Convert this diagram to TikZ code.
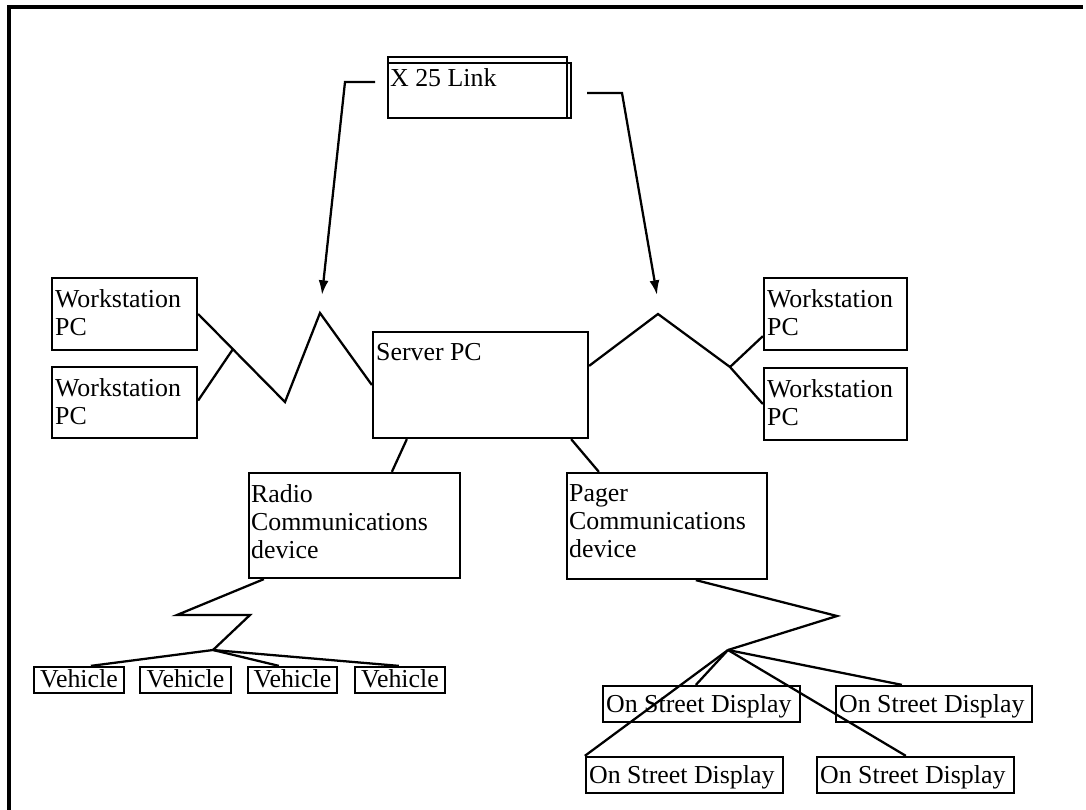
\documentclass[tikz,border=0pt]{standalone}
\usepackage{fontspec}
\setmainfont{Liberation Serif}
\usetikzlibrary{fit,arrows.meta,calc}
\begin{document}
\begin{tikzpicture}[x=0.75pt,y=-0.75pt,
  box/.style={draw, line width=1.7pt, inner sep=0pt},
  lbl/.style={anchor=north west, inner sep=0pt, align=left, font=\fontsize{19.4}{21}\selectfont},
  slbl/.style={inner sep=0pt, font=\fontsize{19.4}{21}\selectfont},
  wire/.style={line width=1.7pt, line join=miter},
  arr/.style={wire, -{Latex[length=11pt,width=7.5pt]}},
  frame/.style={line width=3pt}]
\useasboundingbox (0,0) rectangle (1086,810);
% outer frame (top and left edges)
\draw[frame] (8.5,810) -- (8.5,7) -- (1083,7);

% X.25 link box (double outline)
\node[box, fit={(388,57) (567,118)}] (x25a) {};
\node[box, fit={(388,63) (571,118)}] (x25) {};
\node[lbl] (x25t) at ($(x25a.north west)+(3,12)$) {X 25 Link};

% workstations
\node[box, fit={(52,278) (197,350)}] (ws1) {};
\node[lbl] (ws1t) at ($(ws1.north west)+(4,12)$) {Workstation\\PC};
\node[box, fit={(52,367) (197,438)}] (ws2) {};
\node[lbl] (ws2t) at ($(ws2.north west)+(4,12)$) {Workstation\\PC};
\node[box, fit={(764,278) (907,350)}] (ws3) {};
\node[lbl] (ws3t) at ($(ws3.north west)+(4,12)$) {Workstation\\PC};
\node[box, fit={(764,368) (907,440)}] (ws4) {};
\node[lbl] (ws4t) at ($(ws4.north west)+(4,12)$) {Workstation\\PC};

% server
\node[box, fit={(373,332) (588,438)}] (srv) {};
\node[lbl] (srvt) at ($(srv.north west)+(4,12)$) {Server PC};

% comm devices
\node[box, fit={(249,473) (460,578)}] (rad) {};
\node[lbl] (radt) at ($(rad.north west)+(3,12)$) {Radio\\Communications\\device};
\node[box, fit={(567,473) (767,579)}] (pag) {};
\node[lbl] (pagt) at ($(pag.north west)+(3,12)$) {Pager\\Communications\\device};

% vehicles
\node[box, fit={(34,667) (124,693)}] (v1) {};
\node[slbl, anchor=base] (v1t) at ($(v1.center)+(0,7)$) {Vehicle};
\node[box, fit={(140,667) (231,693)}] (v2) {};
\node[slbl, anchor=base] (v2t) at ($(v2.center)+(0,7)$) {Vehicle};
\node[box, fit={(248,667) (337,693)}] (v3) {};
\node[slbl, anchor=base] (v3t) at ($(v3.center)+(0,7)$) {Vehicle};
\node[box, fit={(355,667) (445,693)}] (v4) {};
\node[slbl, anchor=base] (v4t) at ($(v4.center)+(0,7)$) {Vehicle};

% on street displays
\node[box, fit={(603,686) (800,722)}] (o1) {};
\node[slbl, anchor=base west] (o1t) at ($(o1.west)+(4,8)$) {On Street Display};
\node[box, fit={(836,686) (1032,722)}] (o2) {};
\node[slbl, anchor=base west] (o2t) at ($(o2.west)+(4,8)$) {On Street Display};
\node[box, fit={(586,757) (783,793)}] (o3) {};
\node[slbl, anchor=base west] (o3t) at ($(o3.west)+(4,8)$) {On Street Display};
\node[box, fit={(817,757) (1014,793)}] (o4) {};
\node[slbl, anchor=base west] (o4t) at ($(o4.west)+(4,8)$) {On Street Display};

% arrows from X.25 link
\coordinate (la1) at (375,82);
\coordinate (la2) at (345,82);
\coordinate (lat) at (322,295);
\draw[arr] (la1) -- (la2) -- (lat);
\coordinate (ra1) at (587,93);
\coordinate (ra2) at (622,93);
\coordinate (rat) at (657,295);
\draw[arr] (ra1) -- (ra2) -- (rat);

% left network zigzag
\coordinate (lv) at (285,402);
\coordinate (lp) at (320,313);
\coordinate (lb) at ($(ws1.east)!0.4!(lv)$);
\draw[wire] (ws1.east) -- (lv) -- (lp) -- (srv.west);
\draw[wire] ($(ws2.east)+(0,-2)$) -- (lb);

% right network zigzag
\coordinate (rp) at (658,314);
\coordinate (rb) at (730,367);
\draw[wire] ($(srv.north east)+(0,35)$) -- (rp) -- (rb) -- (ws4.west);
\draw[wire] (rb) -- ($(ws3.south west)+(0,-15)$);

% server to devices
\draw[wire] ($(srv.south west)+(35,0)$) -- ($(rad.north west)+(144,0)$);
\draw[wire] ($(srv.south east)+(-18,0)$) -- ($(pag.north west)+(33,0)$);

% radio to vehicles
\coordinate (rz1) at (177,615);
\coordinate (rz2) at (250,615);
\coordinate (rbr) at (213,650);
\draw[wire] ($(rad.south west)+(16,0)$) -- (rz1) -- (rz2) -- (rbr);
\draw[wire] (rbr) -- ($(v1.north west)+(58,0)$);
\draw[wire] (rbr) -- ($(v3.north west)+(32,0)$);
\draw[wire] (rbr) -- ($(v4.north west)+(45,0)$);

% pager to displays
\coordinate (pz1) at (837,616);
\coordinate (pbr) at (728,650);
\draw[wire] ($(pag.south west)+(130,0)$) -- (pz1) -- (pbr);
\draw[wire] (pbr) -- ($(o1.north west)+(94,0)$);
\draw[wire] (pbr) -- (o3.north west);
\draw[wire] (pbr) -- ($(o4.north west)+(90,0)$);
\draw[wire] (pbr) -- ($(o2.north west)+(67,0)$);
\end{tikzpicture}
\end{document}
